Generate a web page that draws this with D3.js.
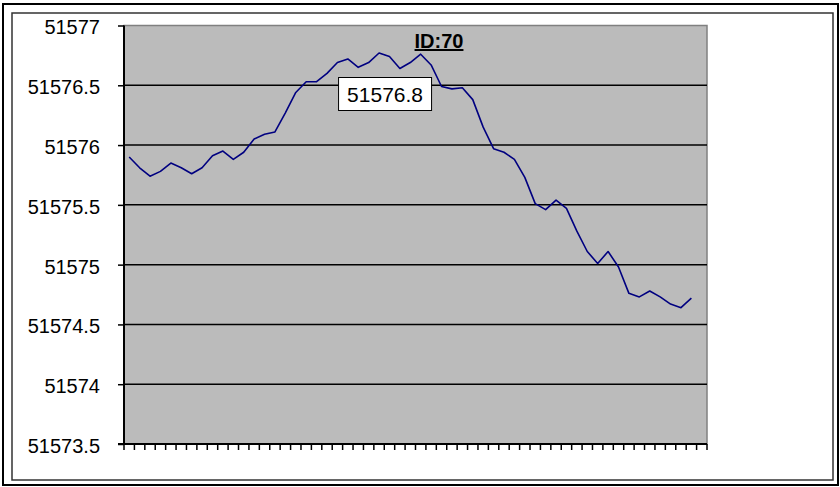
<!DOCTYPE html>
<html>
<head>
<meta charset="utf-8">
<script src="https://cdn.jsdelivr.net/npm/d3@7"></script>
<style>
  body { margin: 0; background: #fff; }
  text { font-family: "Liberation Sans", Arial, sans-serif; }
</style>
</head>
<body>
<svg id="chart" width="840" height="487"></svg>
<script>
// values, one per category (56 categories, last one empty)
const categoryCount = 56;
const values = [
    51575.90, 51575.81, 51575.74, 51575.78, 51575.85, 51575.81, 51575.76, 51575.81,
    51575.91, 51575.95, 51575.88, 51575.94, 51576.05, 51576.09, 51576.11, 51576.27,
    51576.44, 51576.53, 51576.53, 51576.60, 51576.69, 51576.72, 51576.65, 51576.69,
    51576.77, 51576.74, 51576.64, 51576.69, 51576.76, 51576.67, 51576.49, 51576.47,
    51576.48, 51576.38, 51576.15, 51575.97, 51575.94, 51575.88, 51575.73, 51575.51,
    51575.46, 51575.54, 51575.47, 51575.28, 51575.11, 51575.01, 51575.11, 51574.98,
    51574.76, 51574.73, 51574.78, 51574.73, 51574.67, 51574.64, 51574.72
];
const yTicks = [51573.5, 51574, 51574.5, 51575, 51575.5, 51576, 51576.5, 51577];
const title = 'ID:70';

const svg = d3.select('#chart');
const plot = { left: 124, right: 707, top: 25.5, bottom: 444 };

// outer double frame
svg.append('rect')
    .attr('x', 3).attr('y', 4).attr('width', 835).attr('height', 481)
    .attr('fill', 'none').attr('stroke', '#000').attr('stroke-width', 2);
svg.append('rect')
    .attr('x', 12).attr('y', 13).attr('width', 821).attr('height', 467)
    .attr('fill', 'none').attr('stroke', '#333').attr('stroke-width', 1.5);

const x = d3.scaleBand()
    .domain(d3.range(categoryCount))
    .range([plot.left, plot.right]);

const y = d3.scaleLinear()
    .domain([51573.5, 51577])
    .range([plot.bottom, plot.top]);

// plot background
svg.append('rect')
    .attr('x', plot.left).attr('y', plot.top)
    .attr('width', plot.right - plot.left).attr('height', plot.bottom - plot.top)
    .attr('fill', '#bbbbbb').attr('stroke', '#808080').attr('stroke-width', 1.5);

// gridlines
svg.selectAll('line.grid')
    .data(yTicks.filter(d => d > 51573.5 && d < 51577))
    .join('line')
    .attr('class', 'grid')
    .attr('x1', plot.left).attr('x2', plot.right)
    .attr('y1', d => y(d)).attr('y2', d => y(d))
    .attr('stroke', '#000').attr('stroke-width', 1.5);

// y axis
const yAxis = svg.append('g')
    .attr('transform', `translate(${plot.left},0)`)
    .call(d3.axisLeft(y).tickValues(yTicks).tickSize(6).tickPadding(18).tickFormat(d3.format('')));
yAxis.select('.domain').attr('stroke-width', 2).attr('d', `M0,${plot.top}V${plot.bottom}`);
yAxis.selectAll('.tick line').attr('stroke-width', 1.5);
yAxis.selectAll('.tick text')
    .attr('font-size', 20).attr('fill', '#000')
    .attr('font-family', '"Liberation Sans", Arial, sans-serif')
    .attr('dy', '0.42em');

// x axis: ticks at category boundaries
const boundaries = d3.range(categoryCount + 1).map(i => i === categoryCount ? plot.right : x(i));
const xAxis = svg.append('g');
xAxis.append('line')
    .attr('x1', plot.left - 6).attr('x2', plot.right)
    .attr('y1', plot.bottom).attr('y2', plot.bottom)
    .attr('stroke', '#000').attr('stroke-width', 2);
xAxis.selectAll('line.xtick')
    .data(boundaries)
    .join('line')
    .attr('class', 'xtick')
    .attr('x1', d => d).attr('x2', d => d)
    .attr('y1', plot.bottom).attr('y2', plot.bottom + 6)
    .attr('stroke', '#000').attr('stroke-width', 1.5);

// series line
const line = d3.line()
    .x((d, i) => x(i) + x.bandwidth() / 2)
    .y(d => y(d));

svg.append('path')
    .datum(values)
    .attr('d', line)
    .attr('fill', 'none')
    .attr('stroke', '#000080')
    .attr('stroke-width', 1.6)
    .attr('stroke-linejoin', 'round');

// title
svg.append('text')
    .attr('x', 439).attr('y', 48)
    .attr('text-anchor', 'middle')
    .attr('font-size', 20).attr('font-weight', 'bold')
    .attr('text-decoration', 'underline')
    .text(title);

// max value label
const maxIndex = d3.maxIndex(values);
const labelX = x(maxIndex) + x.bandwidth() / 2 + 6;
const labelY = y(values[maxIndex]) + 41;
svg.append('rect')
    .attr('x', labelX - 46.5).attr('y', labelY - 16.5)
    .attr('width', 93).attr('height', 33)
    .attr('fill', '#fff').attr('stroke', '#000').attr('stroke-width', 1);
svg.append('text')
    .attr('x', labelX).attr('y', labelY)
    .attr('dy', '0.36em')
    .attr('text-anchor', 'middle')
    .attr('font-size', 21)
    .text(d3.format('.1f')(values[maxIndex]));
</script>
</body>
</html>
